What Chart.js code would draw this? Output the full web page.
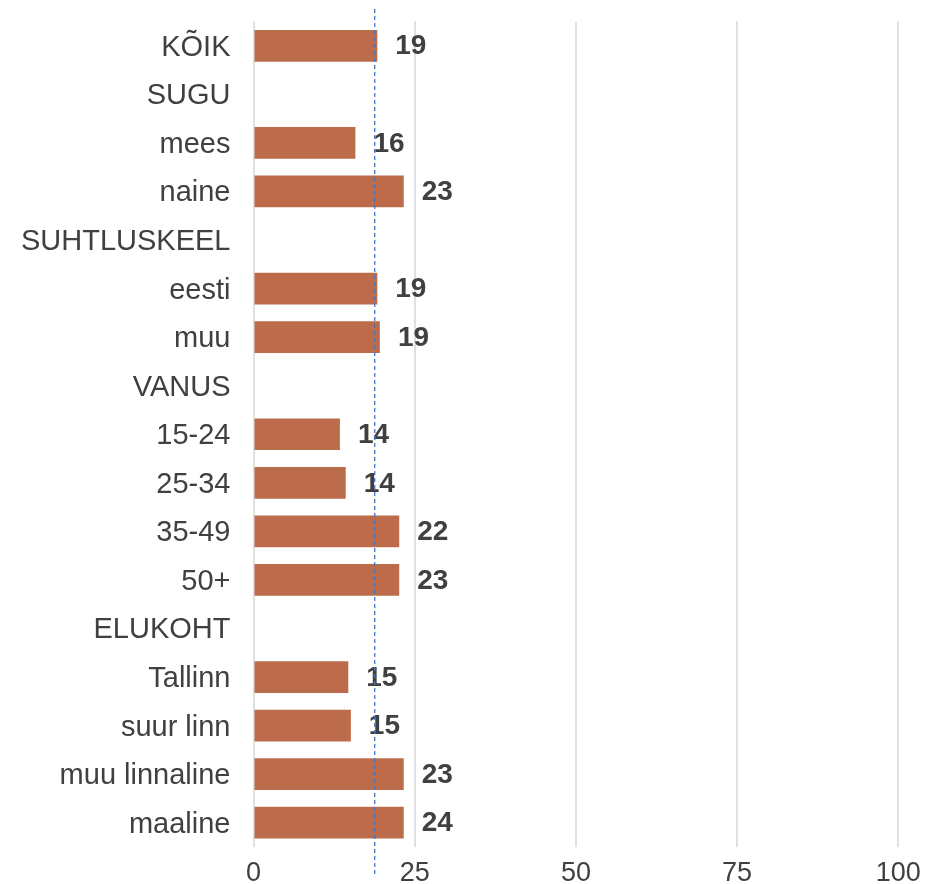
<!DOCTYPE html>
<html>
<head>
<meta charset="utf-8">
<style>
  html, body { margin: 0; padding: 0; background: #ffffff; }
  #wrap { width: 946px; height: 884px; }
</style>
<script src="https://cdn.jsdelivr.net/npm/chart.js@4/dist/chart.umd.min.js"></script>
</head>
<body>
<div id="wrap"><canvas id="c" width="946" height="884"></canvas></div>
<script>
const categories = ["KÕIK", "SUGU", "mees", "naine", "SUHTLUSKEEL", "eesti", "muu", "VANUS",
  "15-24", "25-34", "35-49", "50+", "ELUKOHT", "Tallinn", "suur linn", "muu linnaline", "maaline"];
const values = [19.2, null, 15.8, 23.3, null, 19.2, 19.6, null,
  13.4, 14.3, 22.6, 22.6, null, 14.7, 15.1, 23.3, 23.3];
const valueLabels = ["19", null, "16", "23", null, "19", "19", null,
  "14", "14", "22", "23", null, "15", "15", "23", "24"];
const xTicks = [0, 25, 50, 75, 100];
const averageValue = 18.8;

const FONT = "'Liberation Sans', Arial, Helvetica, sans-serif";
const TEXT = "#404040";

const labelPlugin = {
  id: "valueLabels",
  afterDatasetsDraw(chart) {
    const ctx = chart.ctx;
    const meta = chart.getDatasetMeta(0);
    ctx.save();
    ctx.font = "bold 28px " + FONT;
    ctx.fillStyle = TEXT;
    ctx.textAlign = "left";
    ctx.textBaseline = "middle";
    meta.data.forEach((bar, i) => {
      if (valueLabels[i] == null || values[i] == null) return;
      ctx.fillText(valueLabels[i], bar.x + 18, bar.y + 1);
    });
    ctx.restore();
  }
};

const avgLinePlugin = {
  id: "avgLine",
  afterDatasetsDraw(chart) {
    const ctx = chart.ctx;
    const x = chart.scales.x.getPixelForValue(averageValue);
    ctx.save();
    ctx.strokeStyle = "#3d78c8";
    ctx.lineWidth = 1.3;
    ctx.setLineDash([4, 3]);
    ctx.beginPath();
    ctx.moveTo(x, 9);
    ctx.lineTo(x, 874);
    ctx.stroke();
    ctx.restore();
  }
};

new Chart(document.getElementById("c"), {
  type: "bar",
  data: {
    labels: categories,
    datasets: [{
      data: values,
      backgroundColor: "#bc6c4a",
      borderWidth: 0,
      categoryPercentage: 1.0,
      barPercentage: 0.653
    }]
  },
  options: {
    indexAxis: "y",
    responsive: false,
    animation: false,
    devicePixelRatio: 1,
    layout: { padding: { top: 21.5, right: 47.7, bottom: 0, left: 0 } },
    plugins: {
      legend: { display: false },
      tooltip: { enabled: false }
    },
    scales: {
      x: {
        min: 0,
        max: 100,
        afterBuildTicks(scale) { scale.ticks = xTicks.map(v => ({ value: v })); },
        afterFit(scale) { scale.height = 37; scale.paddingLeft = 0; scale.paddingRight = 0; },
        grid: { color: "#e0e0e0", lineWidth: 2, drawTicks: false },
        border: { display: false },
        ticks: {
          padding: 10,
          color: TEXT,
          font: { family: FONT, size: 27 }
        }
      },
      y: {
        afterFit(scale) { scale.width = 253.5; scale.paddingTop = 0; scale.paddingBottom = 0; },
        grid: { display: false, drawTicks: false },
        border: { display: false },
        ticks: {
          padding: 23,
          labelOffset: 2,
          color: TEXT,
          autoSkip: false,
          font: { family: FONT, size: 29 }
        }
      }
    }
  },
  plugins: [labelPlugin, avgLinePlugin]
});
</script>
</body>
</html>
